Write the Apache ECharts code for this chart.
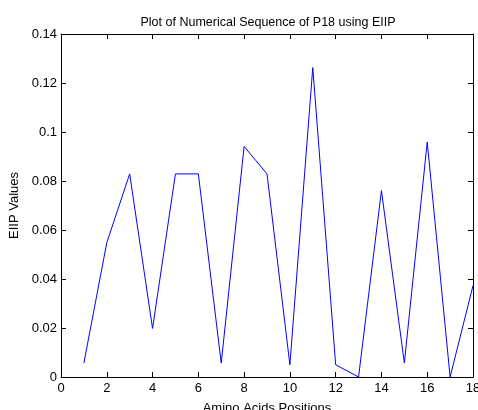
<!DOCTYPE html>
<html><head><meta charset="utf-8">
<script src="https://cdn.jsdelivr.net/npm/echarts@6/dist/echarts.min.js"></script>
<style>html,body{margin:0;padding:0;background:#fff;overflow:hidden}#c{width:478px;height:410px}</style>
</head><body><div id="c"></div>
<script>
const positions = [1,2,3,4,5,6,7,8,9,10,11,12,13,14,15,16,17,18];
const eiipValues = [0.0057,0.0548,0.0829,0.0198,0.0829,0.0829,0.0057,0.0941,0.0829,0.0050,0.1263,0.0050,0.0000,0.0761,0.0057,0.0959,0.0000,0.0373];
const titleText = 'Plot of Numerical Sequence of P18 using EIIP';
const xLabel = 'Amino Acids Positions';
const yLabel = 'EIIP Values';

const font = 'Liberation Sans, Arial, sans-serif';
const chart = echarts.init(document.getElementById('c'), null, {renderer:'canvas'});
function ax(extra){
  return Object.assign({
    axisLine:{show:true,onZero:false,lineStyle:{color:'#000',width:1}},
    axisTick:{show:true,inside:true,length:5,lineStyle:{color:'#000'}},
    splitLine:{show:false}
  }, extra);
}
chart.setOption({
  animation:false,
  title:{text:titleText,left:263,top:11,textAlign:'center',textStyle:{fontFamily:font,fontSize:12.5,fontWeight:'normal',color:'#000'}},
  grid:{left:61,right:5,top:34,bottom:33,containLabel:false,outerBoundsMode:'none'},
  xAxis:[
    ax({type:'value',min:0,max:18,interval:2,position:'bottom',
      name:xLabel,nameLocation:'middle',nameGap:25,
      nameTextStyle:{fontFamily:font,fontSize:13,color:'#000'},
      axisLabel:{fontFamily:font,fontSize:13,color:'#000',margin:5,showMaxLabel:true}}),
    ax({type:'value',min:0,max:18,interval:2,position:'top',axisLabel:{show:false}})
  ],
  yAxis:[
    ax({type:'value',min:0,max:0.14,interval:0.02,position:'left',
      name:yLabel,nameLocation:'middle',nameGap:33,nameRotate:90,
      nameTextStyle:{fontFamily:font,fontSize:13,color:'#000'},
      axisLabel:{fontFamily:font,fontSize:13,color:'#000',margin:4}}),
    ax({type:'value',min:0,max:0.14,interval:0.02,position:'right',axisLabel:{show:false}})
  ],
  series:[{type:'line',data:positions.map((p,i)=>[p,eiipValues[i]]),showSymbol:false,symbol:'none',
    lineStyle:{color:'#0000ff',width:1},clip:true}]
});
</script></body></html>
